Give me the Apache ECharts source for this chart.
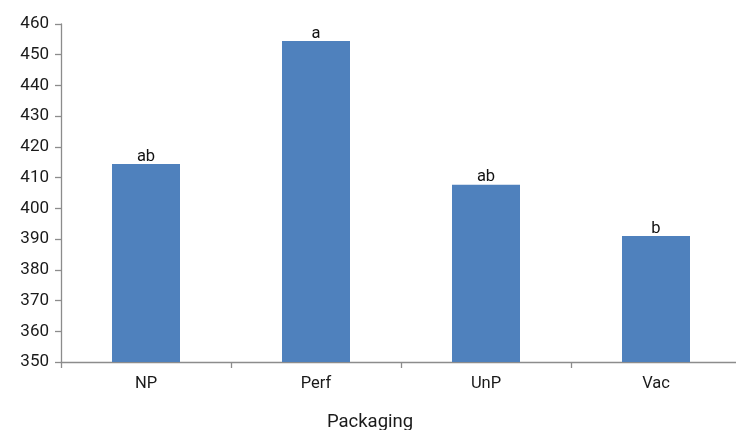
<!DOCTYPE html>
<html><head><meta charset="utf-8">
<script src="https://cdn.jsdelivr.net/npm/echarts@6/dist/echarts.min.js"></script>
<style>html,body{margin:0;padding:0;background:#fff}#c{width:736px;height:430px}</style>
</head><body><div id="c"></div>
<script>
const categories = ['NP', 'Perf', 'UnP', 'Vac'];
const values = [414.4, 454.5, 407.7, 391.0];
const letters = ['ab', 'a', 'ab', 'b'];
const yTicks = { min: 350, max: 460, interval: 10 };
const xTitle = 'Packaging';

const chart = echarts.init(document.getElementById('c'));
chart.setOption({
  animation: false,
  backgroundColor: '#fff',
  title: {
    text: xTitle, left: 370, top: 413, textAlign: 'center', padding: 0,
    textStyle: { fontFamily: 'Roboto', fontSize: 18.5, fontWeight: 'normal', color: '#1a1a1a' }
  },
  grid: { left: 61, right: -5, top: 24, bottom: 68, containLabel: false, outerBoundsMode: 'none' },
  xAxis: {
    type: 'category', data: categories,
    axisLine: { lineStyle: { color: '#8c8c8c', width: 1.3 } },
    axisTick: { show: true, length: 6, lineStyle: { color: '#8c8c8c', width: 1.3 } },
    axisLabel: { fontFamily: 'Roboto', fontSize: 16.5, color: '#1a1a1a', margin: 13 }
  },
  yAxis: {
    type: 'value', min: yTicks.min, max: yTicks.max, interval: yTicks.interval,
    splitLine: { show: false },
    axisLine: { show: true, lineStyle: { color: '#8c8c8c', width: 1.3 } },
    axisTick: { show: true, length: 6, lineStyle: { color: '#8c8c8c', width: 1.3 } },
    axisLabel: { fontFamily: 'Roboto', fontSize: 17, color: '#1a1a1a', margin: 12 }
  },
  series: [{
    type: 'bar', data: values, barWidth: 68,
    itemStyle: { color: '#4f81bd' },
    label: {
      show: true, position: 'top', distance: -1,
      fontFamily: 'Roboto', fontSize: 16.5, color: '#111',
      formatter: p => letters[p.dataIndex]
    }
  }]
});
</script></body></html>
